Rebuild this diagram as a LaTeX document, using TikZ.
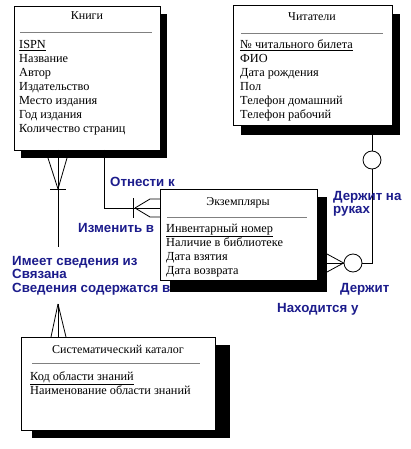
\documentclass[tikz,border=0pt]{standalone}
\usepackage{fontspec}
\setmainfont{Liberation Serif}
\newfontfamily\lblfont{Liberation Sans}
\usetikzlibrary{calc}
\definecolor{lblblue}{RGB}{28,28,140}
\begin{document}
\begin{tikzpicture}[x=1pt,y=-1pt,
 box/.style={draw=black, line width=0.8pt, fill=white, inner sep=0pt, outer sep=0pt, anchor=north west},
 item/.style={font=\fontsize{12.3}{14}\selectfont, anchor=base west, inner sep=0pt},
 head/.style={font=\fontsize{12}{14}\selectfont, anchor=base, inner sep=0pt},
 sepline/.style={draw=gray, line width=1pt},
 lbl/.style={font=\lblfont\bfseries\fontsize{13.3}{15}\selectfont, text=lblblue, anchor=base west, inner sep=0pt},
 conn/.style={draw=black, line width=0.8pt},
 rel/.style={circle, draw=black, line width=0.8pt, minimum size=18pt, inner sep=0pt, fill=white}]
\useasboundingbox (0,0) rectangle (411,449);
\fill[white] (0,0) rectangle (411,449);

% ---------- Книги ----------
\fill[black] (21,14) rectangle (167,158);
\node[box, minimum width=146pt, minimum height=144pt] (knigi) at (14,6) {};
\node[head] (kh) at (87,20) {Книги};
\draw[sepline] (20,33) -- (152,33);
\node[item] (k1) at (19,49) {\underline{ISPN}};
\node[item] (k2) at (19,63) {Название};
\node[item] (k3) at (19,77) {Автор};
\node[item] (k4) at (19,91) {Издательство};
\node[item] (k5) at (19,105) {Место издания};
\node[item] (k6) at (19,119) {Год издания};
\node[item] (k7) at (19,133) {Количество страниц};

% ---------- Читатели ----------
\fill[black] (241,14) rectangle (400,135);
\node[box, minimum width=159pt, minimum height=120pt] (chit) at (233,5) {};
\node[head] (ch) at (312,21) {Читатели};
\draw[sepline] (241,34) -- (383,34);
\node[item] (c1t) at (240,49) {\underline{№ читального билета}};
\node[item] (c2t) at (240,63) {ФИО};
\node[item] (c3t) at (240,77) {Дата рождения};
\node[item] (c4t) at (240,91) {Пол};
\node[item] (c5t) at (240,105) {Телефон домашний};
\node[item] (c6t) at (240,119) {Телефон рабочий};

% ---------- Экземпляры ----------
\fill[black] (170,197) rectangle (327,292);
\node[box, minimum width=157pt, minimum height=91pt] (ekz) at (160,189) {};
\node[head] (eh) at (238,205) {Экземпляры};
\draw[sepline] (167,217) -- (307,217);
\node[item] (e1) at (166,232) {\underline{Инвентарный номер}};
\node[item] (e2) at (166,246) {Наличие в библиотеке};
\node[item] (e3) at (166,260) {Дата взятия};
\node[item] (e4) at (166,274) {Дата возврата};

% ---------- Систематический каталог ----------
\fill[black] (32,345) rectangle (230,438);
\node[box, minimum width=194pt, minimum height=93pt] (syst) at (21,337) {};
\node[head] (sh) at (118,353) {Систематический каталог};
\draw[sepline] (32,363) -- (200,363);
\node[item] (s1t) at (30,380) {\underline{Код области знаний}};
\node[item] (s2t) at (30,394) {Наименование области знаний};

% ---------- Книги -- Экземпляры ----------
\draw[conn] ([xshift=90pt]knigi.south west) |- ([yshift=26pt]ekz.west);
\draw[conn] (133,198) -- (133,218);
\draw[conn] (135,208) -- (150,199) -- (160,199);
\draw[conn] (135,208) -- (150,217) -- (160,217);
\node[lbl] (l1) at (110,186) {Отнести к};
\node[lbl] (l2) at (78,232) {Изменить в};

% ---------- Книги -- Систематический каталог ----------
\coordinate (kb) at ([xshift=44pt]knigi.south west);
\coordinate (kend) at (58,247);
\draw[conn] (kb) -- (kend);
\draw[conn] (48,158) -- (58,189) -- (67,158);
\draw[conn] (50,189) -- (66,189);
\coordinate (sstart) at (58,304);
\draw[conn] (sstart) -- (syst.north west -| sstart);
\draw[conn] (sstart) -- (51,337);
\draw[conn] (sstart) -- (66,337);
\node[lbl] (l3) at (12,265) {Имеет сведения из};
\node[lbl] (l4) at (12,278) {Связана};
\node[lbl] (l5) at (12,292) {Сведения содержатся в};

% ---------- Читатели -- Экземпляры ----------
\node[rel] (r1) at (372,160) {};
\node[rel] (r2) at (353,263) {};
\draw[conn] ([xshift=139pt,yshift=-10pt]chit.south west) -- (r1);
\draw[conn] (r1) |- (r2);
\draw[conn] (r2.west) -- (327,254);
\draw[conn] (r2.west) -- (327,263);
\draw[conn] (r2.west) -- (327,272);
\node[lbl] (l6) at (333,200) {Держит на};
\node[lbl] (l7) at (333,213) {руках};
\node[lbl] (l8) at (340,292) {Держит};
\node[lbl] (l9) at (277,312) {Находится у};
\end{tikzpicture}
\end{document}
